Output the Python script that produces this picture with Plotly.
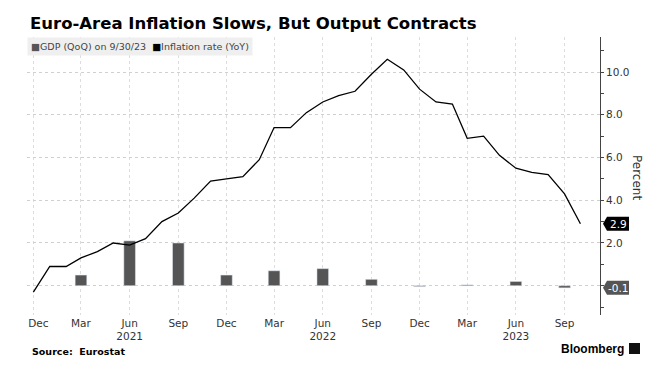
import plotly.graph_objects as go
import pandas as pd

# ---- data ----
infl_months = pd.date_range("2020-12-01", "2023-10-01", freq="MS")
inflation = [-0.3, 0.9, 0.9, 1.3, 1.6, 2.0, 1.9, 2.2, 3.0, 3.4, 4.1, 4.9,
             5.0, 5.1, 5.9, 7.4, 7.4, 8.1, 8.6, 8.9, 9.1, 9.9, 10.6, 10.1,
             9.2, 8.6, 8.5, 6.9, 7.0, 6.1, 5.5, 5.3, 5.2, 4.3, 2.9]
gdp_quarters = pd.date_range("2021-03-01", "2023-09-01", freq="3MS")
gdp = [0.5, 2.1, 2.0, 0.5, 0.7, 0.8, 0.3, -0.04, 0.04, 0.2, -0.1]

x_tickvals = pd.date_range("2020-12-01", "2023-09-01", freq="3MS")
x_ticktext = ["\u00a0\u00a0\u00a0Dec", "Mar", "Jun<br>2021", "Sep", "Dec", "Mar", "Jun<br>2022",
              "Sep", "Dec", "Mar", "Jun<br>2023", "Sep"]
y_tickvals = [0, 2, 4, 6, 8, 10]
y_ticktext = ["", "2.0", "4.0", "6.0", "8.0", "10.0"]
y_minor = [-1, 1, 3, 5, 7, 9, 11]

W, H = 670, 381
L, R, T, B = 27, 70, 37, 66
pw, ph = W - L - R, H - T - B

def px(x):
    return (x - L) / pw

def py(y):
    return (H - B - y) / ph

font = "DejaVu Sans"

fig = go.Figure()
fig.add_trace(go.Bar(x=gdp_quarters, y=gdp, marker_color="#555555",
                     width=22 * 86400000, name="GDP (QoQ) on 9/30/23"))
fig.add_trace(go.Scatter(x=infl_months, y=inflation, mode="lines",
                         line=dict(color="#000000", width=1.3),
                         name="Inflation rate (YoY)"))

fig.update_layout(
    width=W, height=H,
    margin=dict(l=L, r=R, t=T, b=B),
    paper_bgcolor="white", plot_bgcolor="white",
    showlegend=False,
    font=dict(family=font, size=10.5, color="#333333"),
    xaxis=dict(type="date", range=["2020-11-19", "2023-11-07"],
               tickmode="array", tickvals=x_tickvals, ticktext=x_ticktext,
               showgrid=True, gridcolor="#dddddd", griddash="dot", gridwidth=1,
               ticks="", showline=False, zeroline=False,
               tickfont=dict(family=font, size=10.5, color="#333333")),
    yaxis=dict(side="right", range=[-1.37, 11.64],
               tickmode="array", tickvals=y_tickvals, ticktext=y_ticktext,
               showgrid=True, gridcolor="#d0d0d0", griddash="dot", gridwidth=1,
               zeroline=False, showline=True, linecolor="#444444", linewidth=1,
               ticks="outside", ticklen=3, tickcolor="#444444",
               minor=dict(tickmode="array", tickvals=y_minor, ticks="outside",
                          ticklen=3, tickcolor="#444444", showgrid=False),
               tickfont=dict(family=font, size=10.5, color="#333333")),
)

# title
fig.add_annotation(text="<b>Euro-Area Inflation Slows, But Output Contracts</b>",
                   xref="paper", yref="paper", x=px(28), y=py(23),
                   xanchor="left", yanchor="middle", showarrow=False,
                   font=dict(family=font, size=16.5, color="#000000"))

# legend
fig.add_annotation(
    text=("<span style='color:#555555'>■</span>GDP (QoQ) on 9/30/23  "
          "<span style='color:#000000'>■</span>Inflation rate (YoY)"),
    xref="paper", yref="paper", x=px(27), y=py(46), xanchor="left", yanchor="middle",
    showarrow=False, bgcolor="#efefef", borderpad=3,
    font=dict(family=font, size=9.5, color="#444444"))

# axis title
fig.add_annotation(text="Percent", xref="paper", yref="paper", x=px(637), y=py(177),
                   textangle=90, showarrow=False, xanchor="center", yanchor="middle",
                   font=dict(family=font, size=12, color="#333333"))

# value tags
for val, col in [(inflation[-1], "#000000"), (gdp[-1], "#555555")]:
    fig.add_shape(type="path", xref="paper", yref="y",
                  xsizemode="pixel", ysizemode="pixel", xanchor=1, yanchor=val,
                  path="M3,0 L7,-7 L29,-7 L29,7 L7,7 Z",
                  fillcolor=col, line=dict(width=0))
    fig.add_annotation(text=f"{val:.1f}", xref="paper", yref="y", x=1, y=val,
                       xshift=18, xanchor="center", yanchor="middle", showarrow=False,
                       font=dict(family=font, size=10.5, color="white"))

# footer
fig.add_annotation(text="<b>Source:  Eurostat</b>", xref="paper", yref="paper",
                   x=px(30), y=py(351), xanchor="left", yanchor="middle", showarrow=False,
                   font=dict(family=font, size=9.5, color="#000000"))
fig.add_annotation(text="<b>Bloomberg</b>", xref="paper", yref="paper",
                   x=px(626), y=py(349), xanchor="right", yanchor="middle", showarrow=False,
                   font=dict(family="Liberation Sans", size=12, color="#000000"))
fig.add_shape(type="rect", xref="paper", yref="paper",
              x0=px(629), x1=px(640), y0=py(354), y1=py(343),
              fillcolor="#111111", line=dict(width=0))

fig.write_html("out.html", post_script="document.body.style.margin='0';",
               config={"displayModeBar": False})
